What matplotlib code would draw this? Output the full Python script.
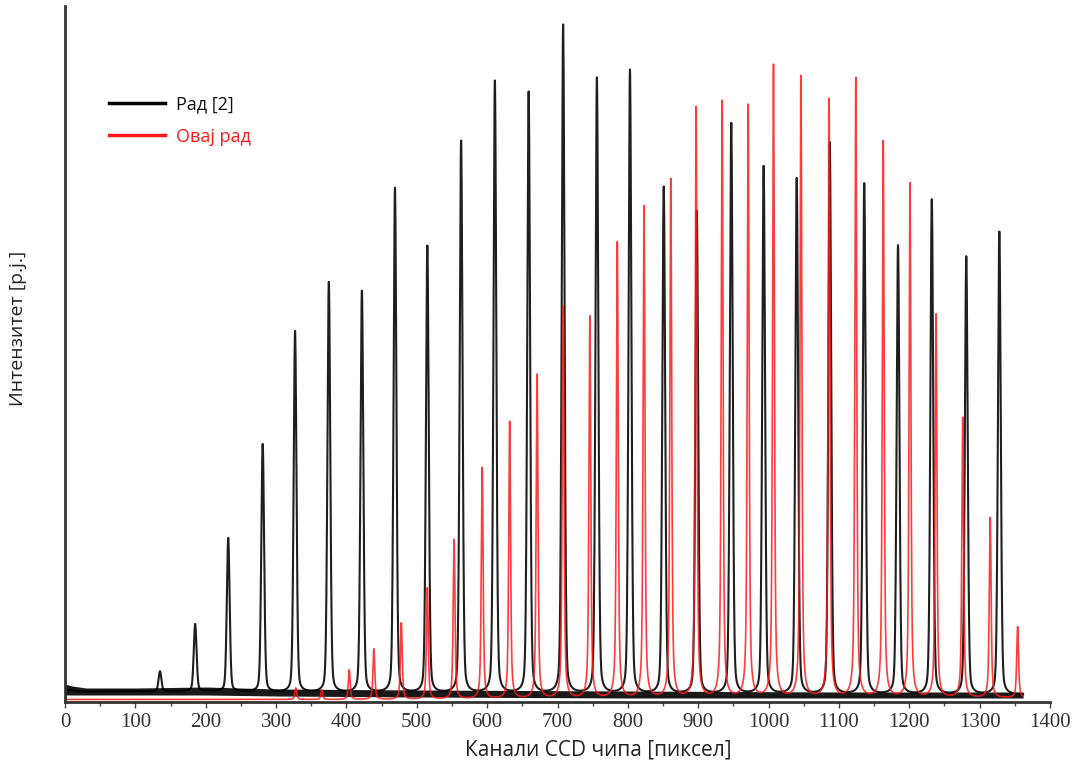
import numpy as np
import matplotlib
matplotlib.use("Agg")
import matplotlib.pyplot as plt

# ---- data ----
# black series "Рад [2]": peak positions (pixel channel) and peak tops (arb. units)
black_pos = [135, 185, 232, 281, 327, 375, 422, 469, 515, 563, 611, 659, 708,
             756, 803, 851, 898, 947, 993, 1040, 1087, 1136, 1184, 1232, 1281, 1328]
black_top = [30, 77, 163, 257, 370, 419, 410, 513, 455, 560, 620, 609, 676,
             623, 631, 514, 490, 578, 535, 523, 559, 518, 456, 502, 445, 470]
# red series "Овај рад"
red_pos = [328, 365, 404, 439, 478, 515, 553, 593, 632, 671, 708, 746, 785, 823,
           861, 897, 934, 971, 1007, 1046, 1086, 1124, 1163, 1201, 1238, 1276, 1315, 1354]
red_top = [14, 12, 32, 53, 79, 114, 162, 234, 280, 327, 395, 385, 459, 495,
           522, 594, 600, 596, 636, 625, 602, 623, 560, 518, 387, 284, 184, 75]

# baseline envelopes (noise band) read at a few channels
base_x = [0, 10, 30, 100, 200, 300, 500, 800, 1100, 1362]
black_base_lo = [7, 7, 7, 7, 7, 6, 5, 4, 4, 4]
black_base_hi = [18, 16, 14, 14, 15, 13, 12, 11, 10, 10]
red_base = [2.5, 2.5, 2.5, 2.5, 2.5, 2.5, 2.5, 3, 3.5, 4]

xticks = [0, 100, 200, 300, 400, 500, 600, 700, 800, 900, 1000, 1100, 1200, 1300, 1400]

# ---- build curves ----
x = np.arange(0, 1362, 0.25)

def pvoigt(x, c, w, eta):
    g = np.exp(-0.5 * ((x - c) / w) ** 2)
    l = 1.0 / (1.0 + ((x - c) / (w * 1.1774)) ** 2)
    return (1 - eta) * g + eta * l

bl_lo = np.interp(x, base_x, black_base_lo)
bl_hi = np.interp(x, base_x, black_base_hi)
bl_mid = 0.5 * (bl_lo + bl_hi)
rb = np.interp(x, base_x, red_base)

yb = bl_mid.copy()
for c, t in zip(black_pos, black_top):
    yb += (t - np.interp(c, base_x, black_base_lo) - 3) * pvoigt(x, c, 2.0, 0.25)
yr = rb.copy()
for c, t in zip(red_pos, red_top):
    yr += (t - np.interp(c, base_x, red_base)) * pvoigt(x, c, 1.3, 0.6)

# ---- figure ----
W, H = 1081, 768
fig = plt.figure(figsize=(W / 100, H / 100), dpi=100)
ax = fig.add_axes([65 / W, (H - 702) / H, (1050 - 65) / W, (702 - 6) / H])

ax.fill_between(x, bl_lo, bl_hi, color="black", lw=0, alpha=0.9)
lb, = ax.plot(x, yb, color="black", lw=1.5, alpha=0.88, label="Рад [2]")
lr, = ax.plot(x, yr, color="#ff1a1a", lw=1.2, alpha=0.85, label="Овај рад")

ax.set_xlim(0, 1400)
ax.set_ylim(0, 696)
ax.set_xticks(xticks)
ax.set_xticks(np.arange(50, 1400, 100), minor=True)
ax.set_yticks([])
ax.tick_params(axis="x", which="major", direction="out", length=4, width=1,
               color="#444444", labelsize=15, labelcolor="#333333", pad=4)
ax.tick_params(axis="x", which="minor", direction="out", length=3, width=1, color="#444444")
for lab in ax.get_xticklabels():
    lab.set_fontfamily("Liberation Serif")

for s in ["top", "right"]:
    ax.spines[s].set_visible(False)
for s in ["left", "bottom"]:
    ax.spines[s].set_linewidth(2)
    ax.spines[s].set_color("#333333")

fig.text(598 / W, 1 - 750 / H, "Канали CCD чипа [пиксел]", ha="center", va="center",
         fontsize=15, family="Open Sans", color="#222222")
fig.text(18 / W, 1 - 328 / H, "Интензитет [p.j.]", ha="center", va="center",
         rotation=90, fontsize=14, family="Open Sans", color="#222222")

leg = ax.legend(handles=[lb, lr], loc="upper left", bbox_to_anchor=(28 / 985, 1 - 73 / 696),
                frameon=False, handlelength=3.1, handletextpad=0.6, labelspacing=0.8,
                prop={"family": "Open Sans", "size": 13})
for h in leg.legend_handles:
    h.set_alpha(1)
    h.set_linewidth(2.5)
leg.get_texts()[1].set_color("#ff1a1a")
leg.get_texts()[0].set_color("#111111")

fig.savefig("out.png", dpi=100)
